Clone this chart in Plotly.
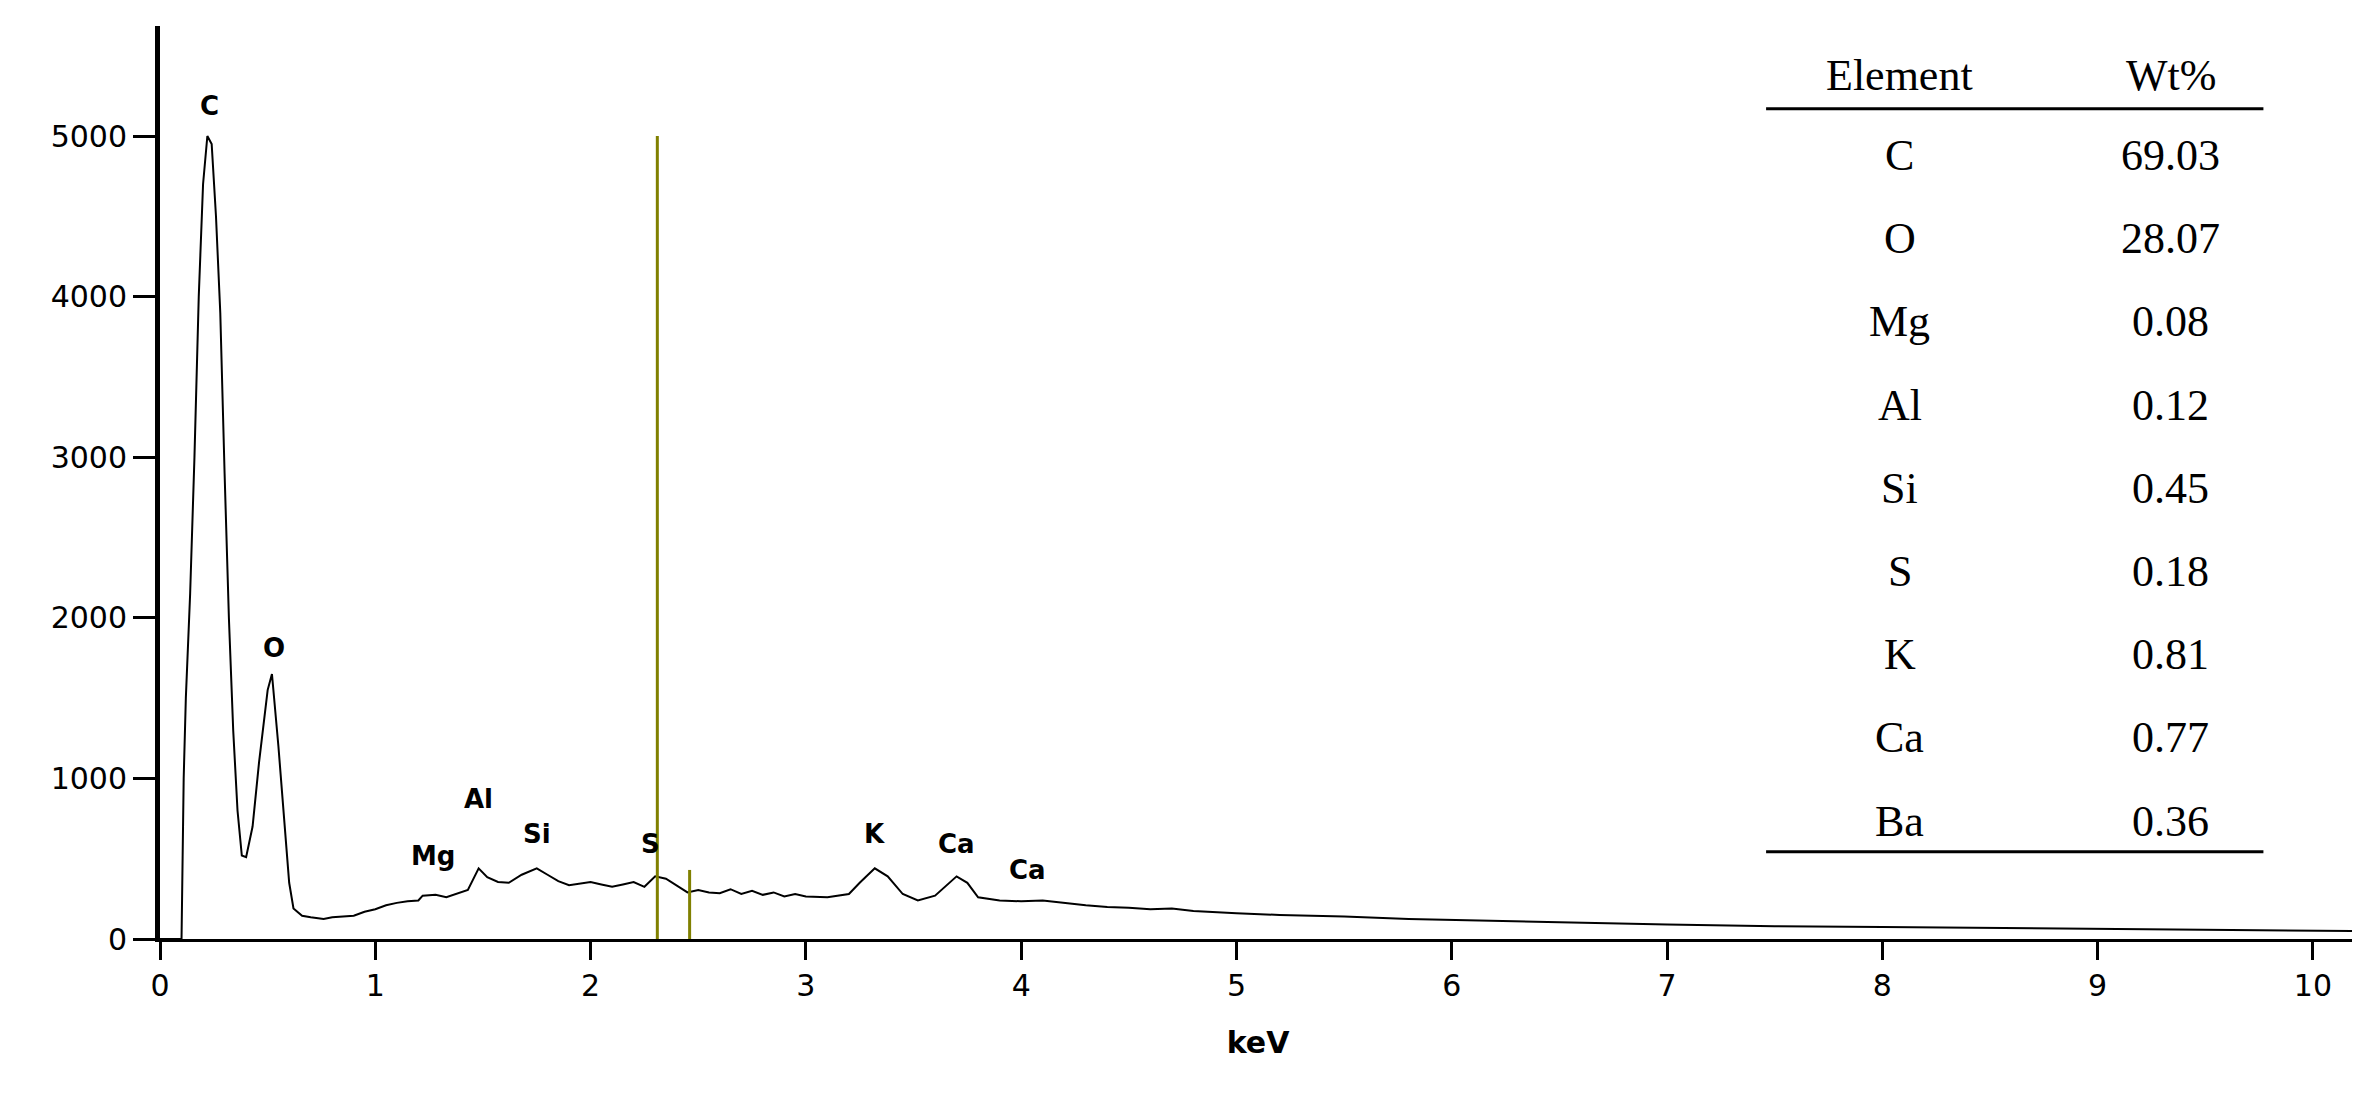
import plotly.graph_objects as go

kev = [0,0.1,0.11,0.12,0.14,0.16,0.18,0.2,0.22,0.24,0.26,0.28,0.3,0.32,0.34,0.36,0.38,0.4,0.43,0.46,0.5,0.52,0.55,0.58,0.6,0.62,0.66,0.7,0.76,0.8,0.9,0.95,1.0,1.05,1.1,1.15,1.2,1.22,1.28,1.33,1.38,1.43,1.48,1.52,1.57,1.62,1.68,1.75,1.8,1.85,1.9,1.95,2.0,2.05,2.1,2.15,2.2,2.25,2.3,2.35,2.4,2.45,2.5,2.55,2.6,2.65,2.7,2.75,2.8,2.85,2.9,2.95,3.0,3.1,3.2,3.25,3.32,3.38,3.45,3.52,3.6,3.7,3.75,3.8,3.9,4.0,4.1,4.2,4.3,4.4,4.5,4.6,4.7,4.8,5.0,5.2,5.5,5.8,6.0,6.3,6.5,7.0,7.5,8.0,8.5,9.0,9.5,10.0,10.2]
counts = [0,0,1000,1500,2150,3000,4000,4700,5000,4950,4500,3900,2900,2000,1300,800,520,510,700,1100,1550,1650,1200,700,350,190,145,135,125,135,145,170,185,210,225,235,240,270,275,260,285,305,440,385,355,350,400,440,400,360,335,345,355,340,325,340,355,325,390,375,330,290,305,290,285,310,280,300,275,290,265,280,265,260,280,350,440,390,280,240,270,390,350,260,240,235,240,225,210,200,195,185,190,175,160,150,140,125,120,110,105,90,80,75,70,65,60,55,50]

marker_x = [2.31, 2.46]
marker_top = [5000, 430]

peak_names = ["C","O","Mg","Al","Si","S","K","Ca","Ca"]
peak_x = [0.23,0.53,1.27,1.48,1.75,2.28,3.32,3.7,4.03]
peak_y = [5190,1810,515,870,655,590,655,590,430]

elements = ["C","O","Mg","Al","Si","S","K","Ca","Ba"]
wt = ["69.03","28.07","0.08","0.12","0.45","0.18","0.81","0.77","0.36"]

fig = go.Figure()
fig.add_trace(go.Scatter(x=kev, y=counts, mode="lines", line=dict(color="black", width=2), showlegend=False))
for mx, mt in zip(marker_x, marker_top):
    fig.add_trace(go.Scatter(x=[mx, mx], y=[0, mt], mode="lines", line=dict(color="#808000", width=3), showlegend=False))

ann = []
for n, x, y in zip(peak_names, peak_x, peak_y):
    ann.append(dict(x=x, y=y, text="<b>"+n+"</b>", showarrow=False, font=dict(family="DejaVu Sans", size=26, color="black")))

tf = dict(family="Liberation Serif", size=44, color="black")
ann.append(dict(x=8.08, y=5375, text="Element", showarrow=False, font=tf))
ann.append(dict(x=9.34, y=5375, text="Wt%", showarrow=False, font=tf))
for i, (e, w) in enumerate(zip(elements, wt)):
    yy = 4878 - i*518
    ann.append(dict(x=8.08, y=yy, text=e, showarrow=False, font=tf))
    ann.append(dict(x=9.34, y=yy, text=w, showarrow=False, font=tf))

shapes = [dict(type="line", x0=7.46, x1=9.77, y0=5169, y1=5169, line=dict(color="black", width=3)),
          dict(type="line", x0=7.46, x1=9.77, y0=544, y1=544, line=dict(color="black", width=3))]

fig.update_layout(
    width=2360, height=1095, plot_bgcolor="white", paper_bgcolor="white",
    margin=dict(l=152, r=12, t=18, b=164),
    annotations=ann, shapes=shapes,
    xaxis=dict(range=[0,10.2], tickvals=list(range(11)), showline=True, linecolor="black", linewidth=3,
               ticks="outside", ticklen=18, tickwidth=3, tickcolor="black", showgrid=False, zeroline=False,
               tickfont=dict(family="DejaVu Sans", size=30, color="black"),
               title=dict(text="<b>keV</b>", font=dict(family="DejaVu Sans", size=30, color="black"), standoff=30)),
    yaxis=dict(range=[0,5685], tickvals=[0,1000,2000,3000,4000,5000], showline=True, linecolor="black", linewidth=5,
               ticks="outside", ticklen=22, tickwidth=3, tickcolor="black", showgrid=False, zeroline=False,
               tickfont=dict(family="DejaVu Sans", size=30, color="black")),
)
fig.write_html("out.html")
